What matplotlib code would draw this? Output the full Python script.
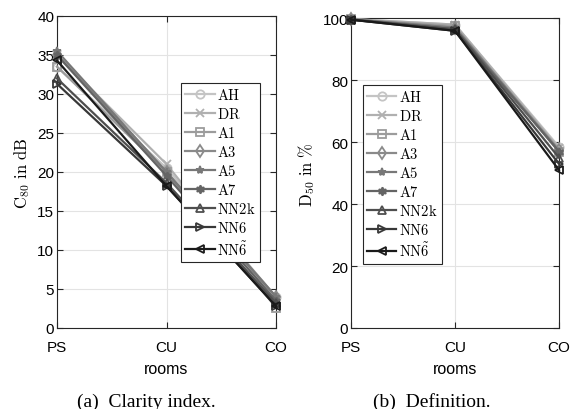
import matplotlib
matplotlib.use("Agg")
import matplotlib.pyplot as plt

plt.rcParams['font.family'] = ['Liberation Sans', 'DejaVu Sans']
plt.rcParams['mathtext.fontset'] = 'cm'

rooms = ['PS', 'CU', 'CO']
methods = ['AH', 'DR', 'A1', 'A3', 'A5', 'A7', 'NN2k', 'NN6', 'NN6t']
labels = [r'$\mathrm{AH}$', r'$\mathrm{DR}$', r'$\mathrm{A1}$', r'$\mathrm{A3}$',
          r'$\mathrm{A5}$', r'$\mathrm{A7}$', r'$\mathrm{NN2k}$', r'$\mathrm{NN6}$',
          r'$\mathrm{NN}\tilde{6}$']

# clarity index C80 in dB per room
c80 = {
    'AH':   [33.5, 20.5, 4.0],
    'DR':   [35.0, 21.0, 3.5],
    'A1':   [33.5, 20.0, 2.6],
    'A3':   [35.0, 20.0, 4.0],
    'A5':   [35.5, 20.0, 4.0],
    'A7':   [35.0, 19.5, 3.5],
    'NN2k': [32.0, 18.6, 3.2],
    'NN6':  [31.3, 18.2, 2.8],
    'NN6t': [34.3, 18.2, 2.8],
}

# definition D50 in percent per room
d50 = {
    'AH':   [99.8, 98.0, 58.5],
    'DR':   [99.8, 98.0, 58.0],
    'A1':   [99.7, 97.5, 57.0],
    'A3':   [99.7, 97.0, 57.5],
    'A5':   [99.7, 97.0, 57.0],
    'A7':   [99.7, 96.5, 57.0],
    'NN2k': [99.6, 96.5, 55.0],
    'NN6':  [99.6, 96.0, 53.0],
    'NN6t': [99.6, 96.0, 51.0],
}

colors = ['#c4c4c4', '#b0b0b0', '#9c9c9c', '#8a8a8a', '#787878',
          '#646464', '#4e4e4e', '#383838', '#1a1a1a']
markers = ['o', 'x', 's', 'd', '*', (6, 1, 0), '^', '>', '<']
filled = [False, True, False, False, True, True, False, False, False]


def draw(ax, data, ylim, yticks, ylabel, leg_anchor):
    x = range(len(rooms))
    for i, m in enumerate(methods):
        ax.plot(x, data[m], color=colors[i], lw=1.6, marker=markers[i],
                markersize=6, markeredgewidth=1.3,
                markerfacecolor=colors[i] if filled[i] else 'none',
                label=labels[i], clip_on=False, zorder=3)
    ax.set_xlim(0, 2)
    ax.set_ylim(*ylim)
    ax.set_xticks(list(x))
    ax.set_xticklabels(rooms)
    ax.set_yticks(yticks)
    ax.grid(True, color='#e3e3e3', lw=0.8)
    ax.set_axisbelow(True)
    ax.tick_params(direction='in', right=True, top=True, length=4,
                   labelsize=11, color='#262626')
    ax.tick_params(axis='x', pad=8.5)
    ax.tick_params(axis='y', pad=2)
    for s in ax.spines.values():
        s.set_color('#262626')
        s.set_linewidth(0.8)
    ax.set_xlabel('rooms', fontsize=11.5, labelpad=5)
    ax.set_ylabel(ylabel, fontsize=12, labelpad=4)
    leg = ax.legend(loc='upper left', bbox_to_anchor=leg_anchor, fontsize=10.5,
                    handlelength=2.0, handletextpad=0.2, labelspacing=0.27,
                    borderpad=0.3, borderaxespad=0, fancybox=False,
                    framealpha=1)
    leg.get_frame().set_edgecolor('#262626')
    leg.get_frame().set_linewidth(0.8)


fig = plt.figure(figsize=(5.71, 4.10), dpi=100)
ax1 = fig.add_axes([0.0998, 0.1976, 0.3836, 0.761])
ax2 = fig.add_axes([0.6147, 0.1976, 0.3643, 0.755])

draw(ax1, c80, (0, 40), range(0, 41, 5), r'$\mathrm{C}_{80}\ \mathrm{in\ dB}$',
     (0.566, 0.785))
draw(ax2, d50, (0, 100), range(0, 101, 20), r'$\mathrm{D}_{50}\ \mathrm{in\ \%}$',
     (0.056, 0.785))

fig.text(0.256, 0.008, '(a)  Clarity index.', ha='center', va='baseline',
         fontsize=14, family='Liberation Serif')
fig.text(0.757, 0.008, '(b)  Definition.', ha='center', va='baseline',
         fontsize=14, family='Liberation Serif')

fig.savefig('out.png', dpi=100)
